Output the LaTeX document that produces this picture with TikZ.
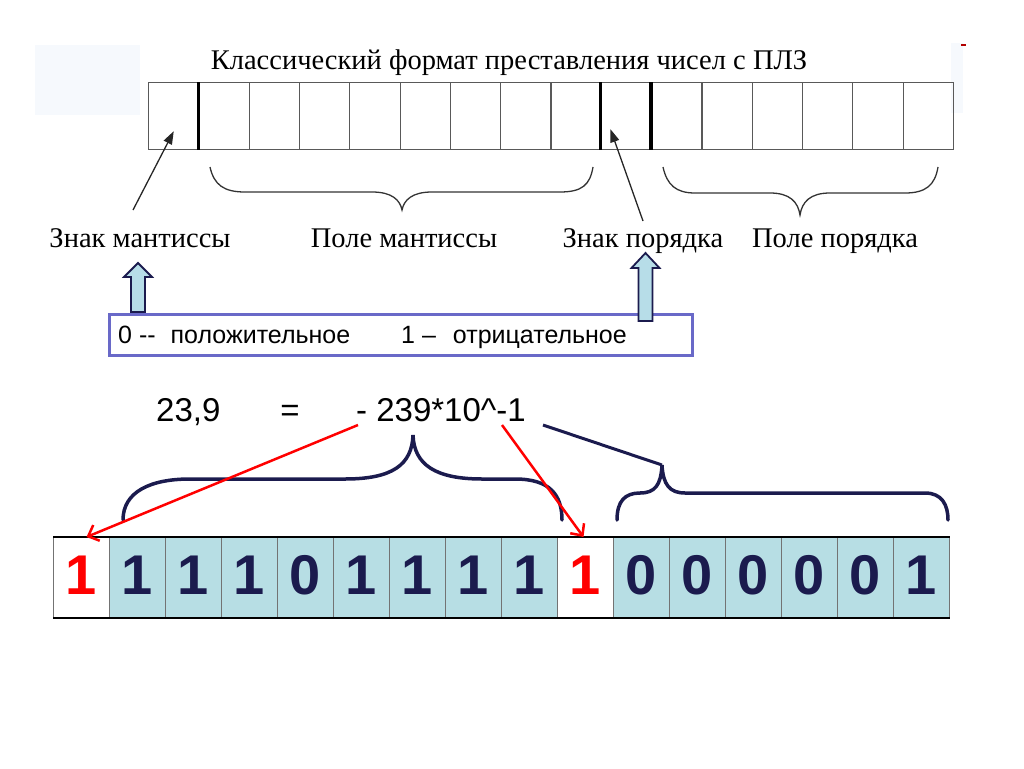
\documentclass[tikz,border=0pt]{standalone}
\usepackage{fontspec}
\setmainfont{Liberation Serif}
\newfontfamily\arial{Liberation Sans}
\usetikzlibrary{arrows.meta,calc}
\definecolor{navy}{RGB}{27,27,78}
\definecolor{cellblue}{RGB}{183,222,228}
\definecolor{boxblue}{RGB}{105,105,200}
\definecolor{arrfill}{RGB}{183,221,232}
\definecolor{pale}{RGB}{246,249,253}
\begin{document}
\begin{tikzpicture}[x=1pt,y=-1pt,
  slot/.style={draw=black!65,line width=1.2pt,minimum width=50.3pt,minimum height=67pt,inner sep=0pt,anchor=north west},
  sep/.style={line width=3.5pt,black},
  lbl/.style={font=\fontsize{28.5}{30}\selectfont,inner sep=0pt,anchor=base},
  ptr/.style={line width=1.3pt,black!85,-{Triangle[length=13pt,width=9pt]}},
  tbrace/.style={line width=1.3pt,black!80},
  blk/.style={draw=navy,line width=1.8pt,fill=arrfill,line join=miter},
  eq/.style={font=\arial\fontsize{33}{35}\selectfont,inner sep=0pt},
  bitcell/.style={draw=black!55,line width=1pt,minimum width=56pt,minimum height=80pt,inner sep=0pt,anchor=north west,
    font=\arial\bfseries\fontsize{56}{56}\selectfont},
  valbit/.style={bitcell,fill=cellblue,text=navy},
  sgnbit/.style={bitcell,fill=white,text=red},
  nbrace/.style={line width=3.5pt,navy,line cap=round},
  redarr/.style={line width=2.5pt,red,-{Straight Barb[length=9pt,width=17pt,line width=2.5pt]}}]
\useasboundingbox (0,0) rectangle (1024,768);

% faint marks
\fill[pale] (35,45) rectangle (140,115);
\fill[pale] (951,43) rectangle (963,113);
\draw[red!70!black,line width=1.5pt] (961,45) -- (966,45);

% classic format
\node[font=\fontsize{28.5}{30}\selectfont,inner sep=0pt,anchor=base] (title) at (509,70) {Классический формат преставления чисел с ПЛЗ};
\foreach \i in {0,...,15}
  \node[slot] (t\i) at ({148+50.3*\i},82) {};
\foreach \i in {1,9,10}
  \draw[sep] (t\i.north west) -- (t\i.south west);

\draw[tbrace] (210,167) .. controls (214,185) and (224,192) .. (245,192) -- (372,192)
  .. controls (392,192) and (400,200) .. (402,210) .. controls (404,200) and (412,192) .. (432,192)
  -- (560,192) .. controls (582,192) and (590,185) .. (593,167);
\draw[tbrace] (663,167) .. controls (667,185) and (676,193) .. (695,193) -- (770,193)
  .. controls (790,193) and (798,202) .. (800,215) .. controls (802,202) and (810,193) .. (830,193)
  -- (905,193) .. controls (926,193) and (935,185) .. (938,167);

\node[lbl] (zm) at (140,247) {Знак мантиссы};
\node[lbl] (pm) at (404,247) {Поле мантиссы};
\node[lbl] (zp) at (643,247) {Знак порядка};
\node[lbl] (pp) at (835,247) {Поле порядка};

\coordinate (zmfoot) at (133,210);
\coordinate (zpfoot) at (643,221);
\draw[ptr] (zmfoot) -- ($(t0.south)+(0,-19)$);
\draw[ptr] (zpfoot) -- ($(t9.south)+(-16,-21)$);

% sign values
\node[draw=boxblue,line width=2.5pt,fill=white,minimum width=583pt,minimum height=41pt,inner sep=0pt,anchor=north west] (sgnbox) at (108,313) {};
\node[font=\arial\fontsize{25}{27}\selectfont,inner sep=0pt,anchor=base west] (sgntxt) at (118,343)
  {0 -{}-\hspace{15pt}положительное\hspace{51pt}1 –\hspace{17pt}отрицательное};
\foreach \cx/\tip/\hb/\bot in {138/263/277/312, 645.5/253/268/321}
  \draw[blk] ({\cx-7},\bot) -- ({\cx-7},\hb) -- ({\cx-14},\hb) -- (\cx,\tip)
    -- ({\cx+14},\hb) -- ({\cx+7},\hb) -- ({\cx+7},\bot) -- cycle;

% example
\node[eq,anchor=base west] (num) at (156,421) {23,9};
\node[eq,anchor=base] (eqs) at (290,421) {=};
\node[eq,anchor=base west] (rhs) at (356,421) {- 239*10\textasciicircum-1};

\foreach \d/\s [count=\i from 0] in {1/sgnbit,1/valbit,1/valbit,1/valbit,0/valbit,1/valbit,1/valbit,1/valbit,1/valbit,
    1/sgnbit,0/valbit,0/valbit,0/valbit,0/valbit,0/valbit,1/valbit}
  \node[\s] (b\i) at ({53+56*\i},537) {\raisebox{5pt}{\d}};
\draw[line width=1.3pt] (b0.north west) -- (b15.north east);
\draw[line width=1.3pt] (b0.south west) -- (b15.south east);

\draw[nbrace] (123,520) .. controls (123,492) and (150,479) .. (190,479) -- (345,479)
  .. controls (392,479) and (412,465) .. (413,435) .. controls (414,465) and (436,479) .. (482,479)
  -- (515,479) .. controls (550,479) and (562,495) .. (562,520);
\coordinate (etip) at (662,465);
\draw[nbrace] (617,520) .. controls (617,501) and (625,493) .. (640,493) .. controls (655,493) and (661,485) .. (etip)
  .. controls (663,485) and (670,493) .. (685,493) -- (925,493) .. controls (942,493) and (948,505) .. (948,520);

\draw[navy,line width=3pt] ($(rhs.base east)+(17,4)$) -- (etip);
\draw[redarr] ($(rhs.base west)+(2,4)$) -- ($(b0.north)+(5,0)$);
\draw[redarr] ($(rhs.base west)+(146,4)$) -- ($(b9.north)+(-2,0)$);
\end{tikzpicture}
\end{document}
